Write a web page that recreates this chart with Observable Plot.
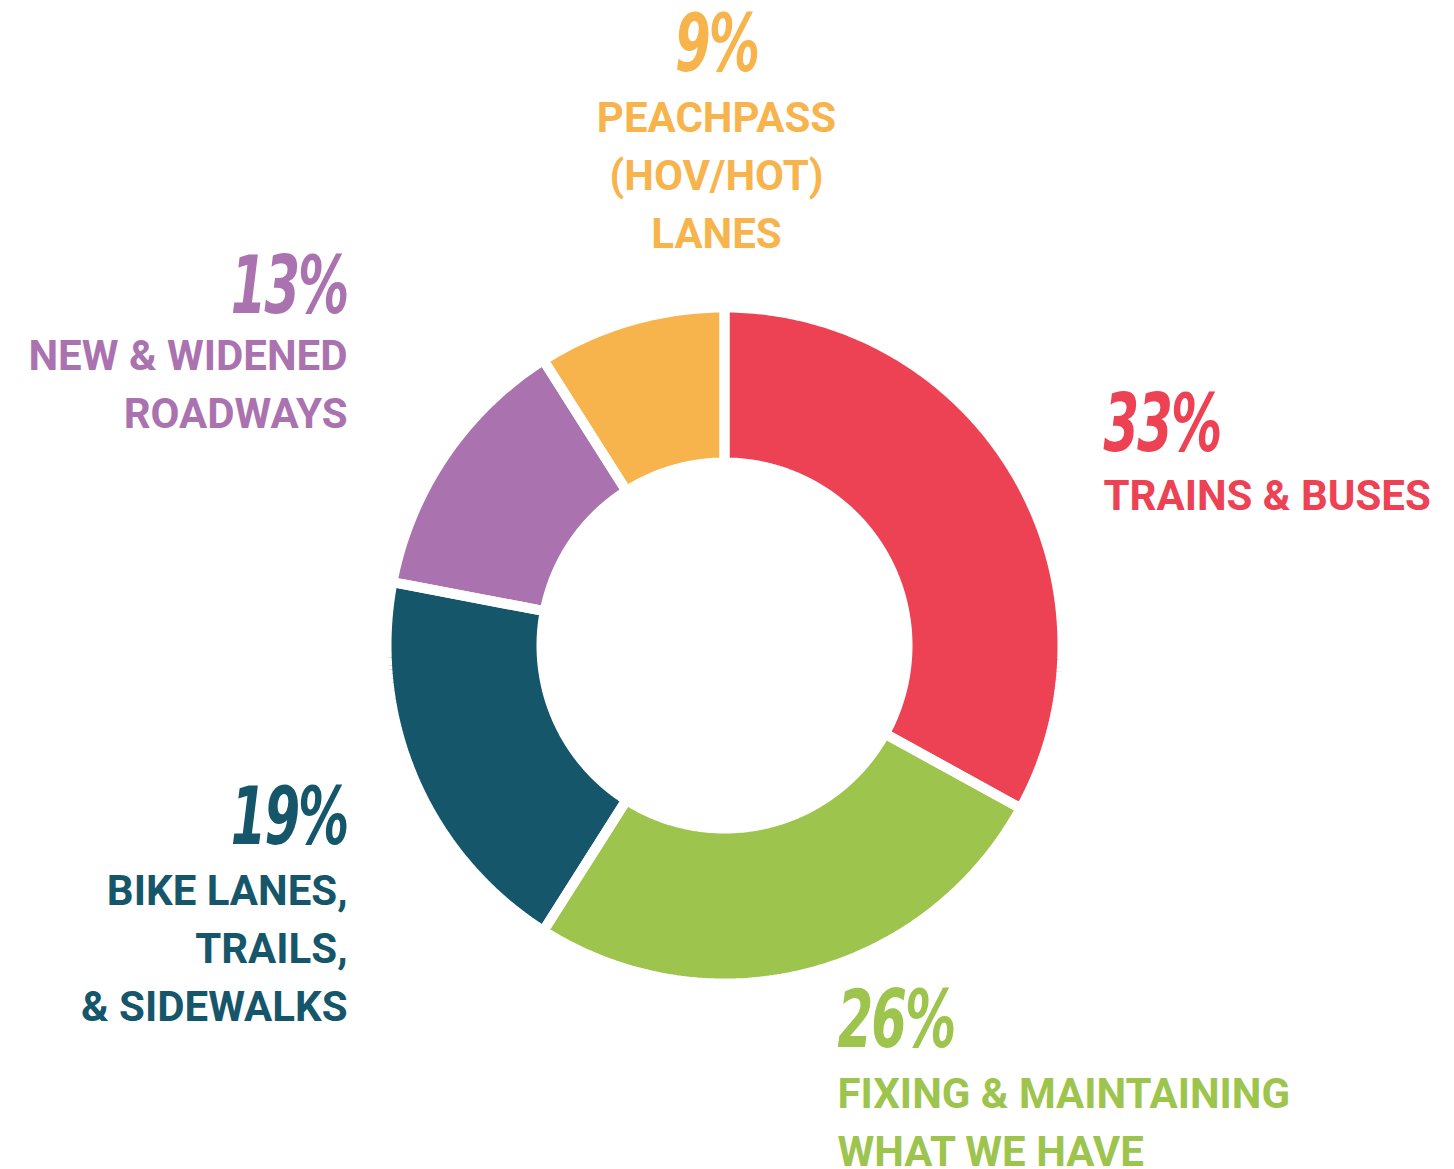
<!DOCTYPE html>
<html>
<head>
<meta charset="utf-8">
<script src="https://cdn.jsdelivr.net/npm/d3@7"></script>
<script src="https://cdn.jsdelivr.net/npm/@observablehq/plot@0.6"></script>
<style>
  html, body { margin: 0; padding: 0; background: #fff; }
  #chart svg { display: block; }
  g[aria-description^="pct"] text { letter-spacing: -3px; }
</style>
</head>
<body>
<div id="chart"></div>
<script>
// ---- data ----
const categories = [
  "TRAINS & BUSES",
  "FIXING & MAINTAINING\nWHAT WE HAVE",
  "BIKE LANES,\nTRAILS,\n& SIDEWALKS",
  "NEW & WIDENED\nROADWAYS",
  "PEACHPASS\n(HOV/HOT)\nLANES"
];
const shares = [33, 26, 19, 13, 9];
const colors = ["#ED4254", "#9DC44D", "#16566A", "#AA73B0", "#F8B44C"];

// ---- layout (not data) ----
const W = 1454, H = 1169;
const cx = 724, cy = 645, rOuter = 338, rInner = 183;
const labelLayout = [
  {x: 1103, pctTop: 394, catTop: 480, anchor: "start"},
  {x: 837,  pctTop: 990, catTop: 1078, anchor: "start"},
  {x: 347,  pctTop: 787, catTop: 875, anchor: "end"},
  {x: 347,  pctTop: 256, catTop: 340, anchor: "end"},
  {x: 716,  pctTop: 14,  catTop: 102, anchor: "middle"}
];

// ---- geometry from data ----
const arcs = d3.pie().sort(null).value(d => d)(shares);
const pts = [];
arcs.forEach((a, i) => {
  const n = Math.max(8, Math.round((a.endAngle - a.startAngle) * 80));
  for (let k = 0; k <= n; k++) {
    const t = a.startAngle + (a.endAngle - a.startAngle) * k / n;
    pts.push({cat: categories[i], x: cx + rOuter * Math.sin(t), y: cy - rOuter * Math.cos(t)});
  }
  for (let k = n; k >= 0; k--) {
    const t = a.startAngle + (a.endAngle - a.startAngle) * k / n;
    pts.push({cat: categories[i], x: cx + rInner * Math.sin(t), y: cy - rInner * Math.cos(t)});
  }
});

const labels = categories.map((c, i) => ({cat: c, pct: shares[i] + "%", ...labelLayout[i]}));

const catSize = 42, catLH = 1.38;
const catShift = (0.71 * catLH - 0.711) * catSize; // align cap tops

const anchors = ["start", "end", "middle"];
const subs = Object.fromEntries(anchors.map(a => [a, labels.filter(d => d.anchor === a)]));

const textMarks = anchors.flatMap(anchor => {
  const sub = subs[anchor];
  return [
    Plot.text(sub, {
      x: "x", y: "pctTop", text: "pct", fill: "cat", textAnchor: anchor,
      lineAnchor: "top", fontSize: 80, fontWeight: 700, fontStyle: "italic",
      fontFamily: "'DejaVu Sans', sans-serif", ariaDescription: "pct-" + anchor
    }),
    Plot.text(sub, {
      x: "x", y: d => d.catTop - catShift, text: "cat", fill: "cat", textAnchor: anchor,
      lineAnchor: "top", lineHeight: catLH, fontSize: catSize, fontWeight: 700,
      fontFamily: "Roboto, 'DejaVu Sans', sans-serif", ariaDescription: "cat-" + anchor
    })
  ];
});

const chart = Plot.plot({
  width: W,
  height: H,
  margin: 0,
  x: {domain: [0, W], range: [0, W], axis: null},
  y: {domain: [0, H], range: [0, H], axis: null},
  color: {domain: categories, range: colors},
  marks: [
    Plot.line(pts, {x: "x", y: "y", z: "cat", fill: "cat", stroke: "none", curve: "linear-closed"}),
    Plot.line(pts, {x: "x", y: "y", z: "cat", stroke: "white", strokeWidth: 10, strokeLinejoin: "miter", curve: "linear-closed"}),
    ...textMarks
  ]
});

// condense the percent figures horizontally around their anchor point (style only)
const xs = chart.scale("x"), ys = chart.scale("y");
anchors.forEach(anchor => {
  const sub = subs[anchor];
  d3.select(chart).selectAll(`g[aria-description="pct-${anchor}"] text`).each(function(d, j) {
    const i = typeof d === "number" ? d : j;
    const row = sub[i];
    const X = xs.apply(row.x), Y = ys.apply(row.pctTop);
    d3.select(this).attr("transform", `translate(${X},${Y}) scale(0.64,1)`);
  });
});

document.getElementById("chart").appendChild(chart);
</script>
</body>
</html>
